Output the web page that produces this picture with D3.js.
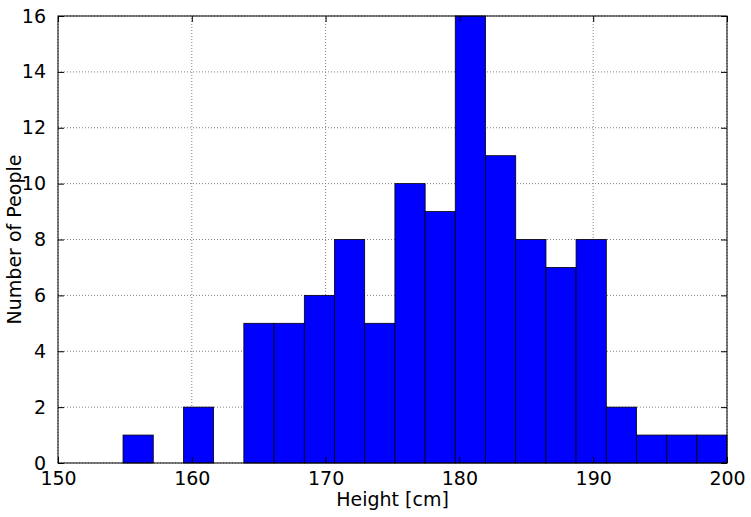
<!DOCTYPE html>
<html>
<head>
<meta charset="utf-8">
<script src="https://cdn.jsdelivr.net/npm/d3@7"></script>
<style>
  body { margin: 0; background: #fff; }
  text { font-family: "DejaVu Sans", sans-serif; }
</style>
</head>
<body>
<svg id="chart" width="751" height="517"></svg>
<script>
// histogram bins (left edges, cm) and counts
const binEdges = [154.86, 157.12, 159.38, 161.63, 163.89, 166.15, 168.41, 170.66, 172.92, 175.18,
                  177.44, 179.69, 181.95, 184.21, 186.47, 188.72, 190.98, 193.24, 195.50, 197.75, 200.0];
const counts = [1, 0, 2, 0, 5, 5, 6, 8, 5, 10, 9, 16, 11, 8, 7, 8, 2, 1, 1, 1];
const xTicks = [150, 160, 170, 180, 190, 200];
const yTicks = [0, 2, 4, 6, 8, 10, 12, 14, 16];

const margin = { left: 58, right: 24, top: 16, bottom: 54 };
const width = 751, height = 517;
const svg = d3.select('#chart');

const x = d3.scaleLinear().domain([150, 200]).range([margin.left, width - margin.right]);
const y = d3.scaleLinear().domain([0, 16]).range([height - margin.bottom, margin.top]);

// grid
const grid = svg.append('g').attr('stroke', '#808080').attr('stroke-dasharray', '1,2').attr('stroke-width', 1);
xTicks.forEach(t => grid.append('line').attr('x1', x(t)).attr('x2', x(t)).attr('y1', y(0)).attr('y2', y(16)));
yTicks.forEach(t => grid.append('line').attr('x1', x(150)).attr('x2', x(200)).attr('y1', y(t)).attr('y2', y(t)));

// bars
svg.append('g').selectAll('rect')
    .data(counts.map((c, i) => ({ x0: binEdges[i], x1: binEdges[i + 1], c })))
    .join('rect')
    .filter(d => d.c > 0)
    .attr('x', d => x(d.x0))
    .attr('width', d => x(d.x1) - x(d.x0))
    .attr('y', d => y(d.c))
    .attr('height', d => y(0) - y(d.c))
    .attr('fill', '#0000ff')
    .attr('stroke', '#000')
    .attr('stroke-width', 0.8);

// axes with inward ticks on all sides
const fs = '19px';
const xb = svg.append('g').attr('transform', `translate(0,${y(0)})`)
    .call(d3.axisBottom(x).tickValues(xTicks).tickSize(-6).tickPadding(9));
const xt = svg.append('g').attr('transform', `translate(0,${y(16)})`)
    .call(d3.axisTop(x).tickValues(xTicks).tickSize(-6).tickFormat(''));
const yl = svg.append('g').attr('transform', `translate(${x(150)},0)`)
    .call(d3.axisLeft(y).tickValues(yTicks).tickSize(-6).tickPadding(12));
const yr = svg.append('g').attr('transform', `translate(${x(200)},0)`)
    .call(d3.axisRight(y).tickValues(yTicks).tickSize(-6).tickFormat(''));
[xb, xt, yl, yr].forEach(g => {
    g.attr('font-size', null).attr('font-family', null);
    g.select('.domain').remove();
    g.selectAll('line').attr('stroke', '#000');
    g.selectAll('text').style('font-size', fs).attr('fill', '#000');
});

svg.append('rect').attr('x', x(150)).attr('y', y(16))
    .attr('width', x(200) - x(150)).attr('height', y(0) - y(16))
    .attr('fill', 'none').attr('stroke', '#000').attr('stroke-width', 1);

svg.append('text').attr('x', (x(150) + x(200)) / 2).attr('y', 506)
    .attr('text-anchor', 'middle').style('font-size', fs).text('Height [cm]');
svg.append('text').attr('transform', `translate(21,${(y(0) + y(16)) / 2}) rotate(-90)`)
    .attr('text-anchor', 'middle').style('font-size', fs).text('Number of People');
</script>
</body>
</html>
